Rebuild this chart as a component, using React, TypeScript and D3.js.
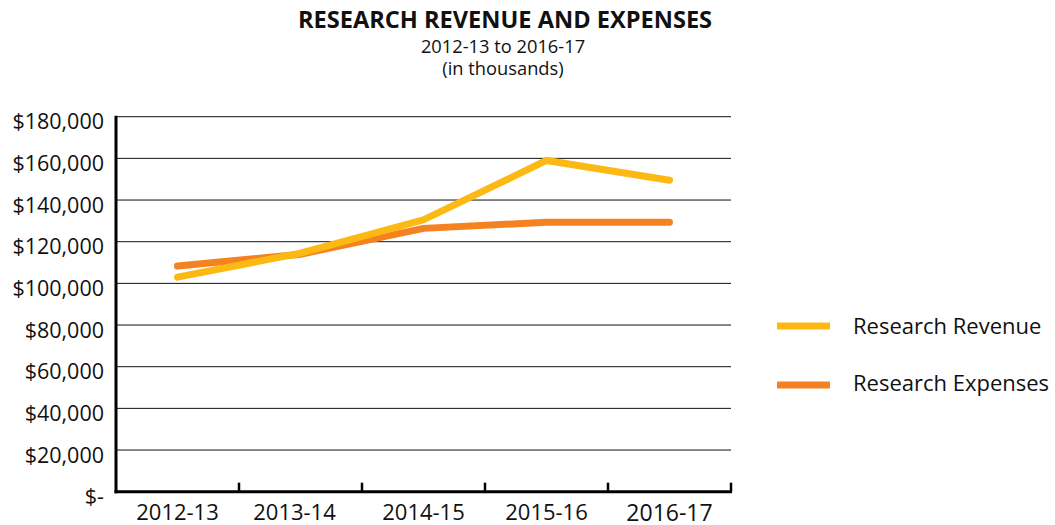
import React from "react";
import * as d3 from "d3";

const categories = ["2012-13", "2013-14", "2014-15", "2015-16", "2016-17"];
const revenue = [103000, 114500, 130500, 159000, 149500];
const expenses = [108300, 114000, 126400, 129300, 129300];
const yTicks = [0, 20000, 40000, 60000, 80000, 100000, 120000, 140000, 160000, 180000];
const seriesNames = ["Research Revenue", "Research Expenses"];
const seriesColors = ["#FDB913", "#F58220"];

const W = 1055;
const H = 525;
const left = 116;
const right = 731;
const top = 116.7;
const bottom = 491.7;
const FONT = "'Open Sans', 'Noto Sans', sans-serif";

export default function App() {
  const x = d3.scaleBand<string>().domain(categories).range([left, right]).padding(0);
  const y = d3.scaleLinear().domain([0, 180000]).range([bottom, top]);
  const cx = (c: string) => (x(c) as number) + x.bandwidth() / 2;
  const line = d3
    .line<number>()
    .x((_, i) => cx(categories[i]))
    .y((d) => y(d));
  const fmt = (v: number) => (v === 0 ? "$-" : "$" + d3.format(",")(v));
  const series = [expenses, revenue];
  const colorsDraw = [seriesColors[1], seriesColors[0]];

  return (
    <svg
      width={W}
      height={H}
      style={{ position: "absolute", left: 0, top: 0, background: "#fff" }}
      fontFamily={FONT}
    >
      <text x={505} y={28} textAnchor="middle" fontSize={23.6} fontWeight="bold" fill="#111">
        RESEARCH REVENUE AND EXPENSES
      </text>
      <text x={503} y={52.5} textAnchor="middle" fontSize={18.3} fill="#111">
        2012-13 to 2016-17
      </text>
      <text x={503} y={75} textAnchor="middle" fontSize={18.3} fill="#111">
        (in thousands)
      </text>

      {yTicks
        .filter((t) => t > 0)
        .map((t) => (
          <line key={"g" + t} x1={left} x2={right} y1={y(t)} y2={y(t)} stroke="#111" strokeWidth={1} />
        ))}

      {yTicks.map((t) => (
        <text key={"yl" + t} x={104} y={y(t) + 12.5} textAnchor="end" fontSize={21.5} fill="#111">
          {fmt(t)}
        </text>
      ))}

      {series.map((s, i) => (
        <path
          key={"s" + i}
          d={line(s) as string}
          fill="none"
          stroke={colorsDraw[i]}
          strokeWidth={7}
          strokeLinecap="round"
          strokeLinejoin="miter"
        />
      ))}

      <line x1={left} x2={left} y1={top - 1} y2={bottom + 1.5} stroke="#000" strokeWidth={3} />
      <line x1={left - 1.5} x2={right + 1} y1={bottom} y2={bottom} stroke="#000" strokeWidth={3} />
      {categories.map((c) => (
        <line
          key={"t" + c}
          x1={(x(c) as number) + x.bandwidth()}
          x2={(x(c) as number) + x.bandwidth()}
          y1={bottom - 9}
          y2={bottom}
          stroke="#000"
          strokeWidth={2.5}
        />
      ))}

      {categories.map((c, i) => (
        <text
          key={"xl" + c}
          x={cx(c) + (i === 1 ? -6 : 0)}
          y={i === categories.length - 1 ? 520.5 : 519.5}
          textAnchor="middle"
          fontSize={i === categories.length - 1 ? 23 : 22}
          fill="#111"
        >
          {c}
        </text>
      ))}

      {seriesNames.map((n, i) => (
        <g key={"lg" + n}>
          <line x1={777} x2={830} y1={326 + i * 59} y2={326 + i * 59} stroke={seriesColors[i]} strokeWidth={7} />
          <text x={853} y={334 + i * 57} fontSize={22} fill="#111">
            {n}
          </text>
        </g>
      ))}
    </svg>
  );
}
